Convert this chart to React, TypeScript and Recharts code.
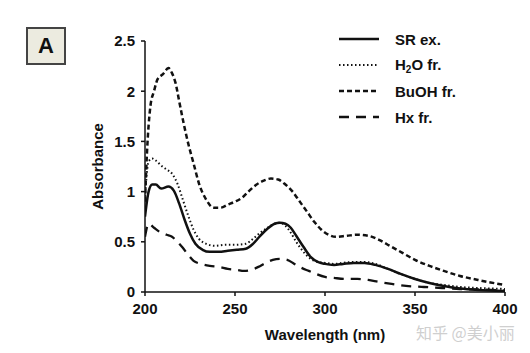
import React from "react";
import { Line, LineChart, XAxis, YAxis } from "recharts";

// Wavelength (nm) / absorbance pairs
const srWl = [200, 202, 204, 206, 209, 213, 216, 219, 222, 225, 228, 232, 236, 241, 246, 251, 256, 260, 264, 268, 272, 275, 278, 281, 284, 288, 292, 296, 300, 305, 310, 316, 322, 328, 335, 342, 350, 358, 366, 375, 385, 400];
const srAbs = [0.75, 1.0, 1.07, 1.07, 1.03, 1.05, 1.01, 0.88, 0.72, 0.58, 0.48, 0.42, 0.4, 0.4, 0.41, 0.42, 0.43, 0.48, 0.56, 0.63, 0.68, 0.69, 0.68, 0.64, 0.56, 0.45, 0.35, 0.3, 0.28, 0.27, 0.28, 0.29, 0.29, 0.27, 0.23, 0.18, 0.13, 0.09, 0.06, 0.035, 0.02, 0.01];

const h2oWl = [200, 202, 204, 206, 209, 212, 215, 218, 221, 224, 227, 230, 234, 239, 245, 250, 256, 260, 264, 268, 272, 275, 278, 281, 284, 288, 292, 296, 300, 305, 310, 316, 322, 328, 335, 342, 350, 358, 366, 375, 385, 400];
const h2oAbs = [0.95, 1.3, 1.33, 1.31, 1.26, 1.22, 1.18, 1.08, 0.92, 0.76, 0.62, 0.53, 0.48, 0.46, 0.47, 0.47, 0.48, 0.53, 0.59, 0.64, 0.68, 0.69, 0.66, 0.59, 0.5, 0.4, 0.33, 0.3, 0.29, 0.28, 0.29, 0.3, 0.3, 0.28, 0.23, 0.18, 0.13, 0.09, 0.07, 0.05, 0.04, 0.03];

const buohWl = [200, 201, 203, 205, 207, 210, 213, 215, 217, 219, 221, 224, 227, 230, 234, 238, 242, 246, 250, 254, 258, 262, 266, 270, 274, 278, 282, 286, 290, 294, 298, 302, 306, 312, 318, 324, 330, 336, 343, 350, 358, 366, 375, 385, 392, 400];
const buohAbs = [0.9, 1.35, 1.85, 2.0, 2.12, 2.17, 2.23, 2.18, 2.08, 1.9, 1.72, 1.48, 1.28, 1.08, 0.92, 0.84, 0.84, 0.87, 0.9, 0.94, 1.01, 1.07, 1.11, 1.13, 1.12, 1.07, 1.0, 0.9, 0.8, 0.7, 0.62, 0.57, 0.55, 0.56, 0.57, 0.56, 0.52, 0.46, 0.39, 0.32, 0.26, 0.21, 0.16, 0.12, 0.095, 0.07];

const hxWl = [200, 202, 205, 208, 212, 215, 218, 221, 224, 227, 231, 236, 241, 246, 251, 255, 259, 263, 267, 271, 275, 279, 283, 287, 291, 295, 300, 305, 312, 318, 324, 330, 337, 345, 355, 365, 375, 385, 400];
const hxAbs = [0.55, 0.68, 0.64, 0.6, 0.57, 0.55, 0.5, 0.44, 0.37, 0.31, 0.28, 0.26, 0.25, 0.23, 0.22, 0.21, 0.22, 0.25, 0.29, 0.32, 0.33, 0.32, 0.28, 0.24, 0.21, 0.18, 0.15, 0.14, 0.13, 0.13, 0.12, 0.1, 0.08, 0.06, 0.05, 0.04, 0.03, 0.025, 0.015];

const xTicks = [200, 250, 300, 350, 400];
const yTicks = [0, 0.5, 1, 1.5, 2, 2.5];

const toPoints = (wl: number[], abs: number[]) =>
  wl.map((w, i) => ({ wl: w, abs: abs[i] }));

const series = [
  { name: "SR ex.", data: toPoints(srWl, srAbs), dash: undefined, width: 2.5 },
  { name: "H2O fr.", data: toPoints(h2oWl, h2oAbs), dash: "1.5 2.5", width: 2 },
  { name: "BuOH fr.", data: toPoints(buohWl, buohAbs), dash: "5 3", width: 2.5 },
  { name: "Hx fr.", data: toPoints(hxWl, hxAbs), dash: "10 7", width: 2.3 },
];

const FONT = "'Liberation Sans', Arial, sans-serif";
const tickStyle = { fill: "#111", fontSize: 15, fontWeight: 700, fontFamily: FONT };
const titleStyle = { fill: "#111", fontSize: 15, fontWeight: 700, fontFamily: FONT };

function LegendBox() {
  return (
    <div style={{ position: "absolute", left: 339, top: 28, fontFamily: FONT }}>
      {series.map((s, i) => (
        <div
          key={s.name}
          style={{ position: "absolute", top: i * 26, left: 0, height: 22, display: "flex", alignItems: "center", whiteSpace: "nowrap" }}
        >
          <svg width={42} height={6} style={{ display: "block" }}>
            <line x1={0} y1={3} x2={40} y2={3} stroke="#111" strokeWidth={s.width} strokeDasharray={s.dash} />
          </svg>
          <span style={{ marginLeft: 14, fontSize: 15, fontWeight: 700, color: "#111" }}>
            {s.name === "H2O fr." ? (
              <>
                H<sub style={{ fontSize: 10, verticalAlign: "-3px" }}>2</sub>O fr.
              </>
            ) : (
              s.name
            )}
          </span>
        </div>
      ))}
    </div>
  );
}

export default function App() {
  return (
    <div style={{ position: "absolute", left: 0, top: 0, width: 530, height: 353, background: "#fff" }}>
      <LineChart width={530} height={353} margin={{ top: 41, right: 25, bottom: 0, left: 51 }}>
        <XAxis
          dataKey="wl"
          type="number"
          domain={[200, 400]}
          ticks={xTicks}
          allowDataOverflow
          height={61}
          stroke="#111"
          strokeWidth={1.5}
          tickSize={4}
          tickMargin={7}
          tick={tickStyle}
          label={{ value: "Wavelength (nm)", position: "insideBottom", offset: 13, style: titleStyle }}
        />
        <YAxis
          dataKey="abs"
          type="number"
          domain={[0, 2.5]}
          ticks={yTicks}
          width={94}
          stroke="#111"
          strokeWidth={1.5}
          tickSize={4}
          tickMargin={6}
          tick={tickStyle}
          label={{ value: "Absorbance", angle: -90, position: "center", style: titleStyle }}
        />
        {series.map((s) => (
          <Line
            key={s.name}
            data={s.data}
            dataKey="abs"
            type="monotone"
            stroke="#111"
            strokeWidth={s.width}
            strokeDasharray={s.dash}
            dot={false}
            isAnimationActive={false}
          />
        ))}
      </LineChart>
      <div
        style={{
          position: "absolute", left: 26, top: 27, width: 36, height: 34, background: "#ecebe0",
          border: "2px solid #444", display: "flex", alignItems: "center", justifyContent: "center",
          fontFamily: FONT, fontWeight: 700, fontSize: 22, color: "#111",
        }}
      >
        A
      </div>
      <LegendBox />
      <div
        style={{
          position: "absolute", left: 416, top: 320, fontSize: 16, color: "#cfcfcf",
          fontFamily: "'Noto Sans CJK SC', sans-serif", whiteSpace: "nowrap",
        }}
      >
        知乎 @美小丽
      </div>
    </div>
  );
}
